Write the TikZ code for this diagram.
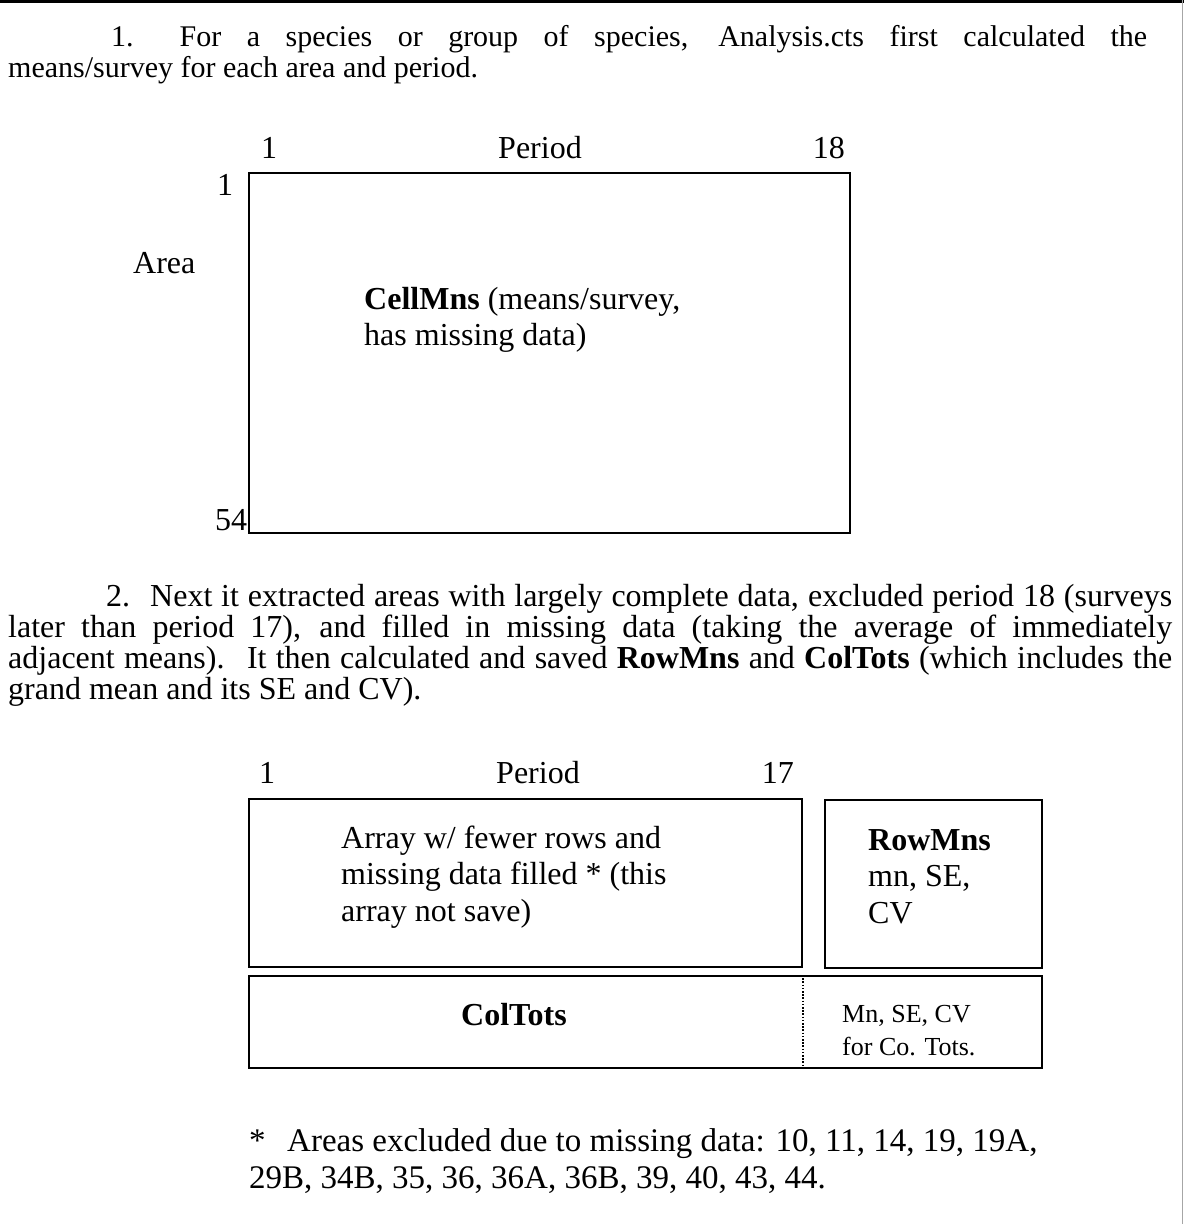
\documentclass[tikz,border=0pt]{standalone}
\usepackage{fontspec}
\setmainfont{Liberation Serif}
\newcommand\fsz[2]{\fontsize{#1}{#2}\selectfont}
\begin{document}
\begin{tikzpicture}[x=1pt,y=-1pt,
  txt/.style={inner sep=0pt, anchor=base west, font=\fsz{32}{31}},
  ptxt/.style={inner sep=0pt, anchor=base west, font=\fsz{30}{31}},
  boxn/.style={draw, line width=2pt, inner sep=0pt, anchor=north west},
  lbl/.style={inner sep=0pt, anchor=base, font=\fsz{32}{31}}]
\useasboundingbox (0,0) rectangle (1184,1224);
% page frame
\draw[line width=3.3pt] (0,1.7) -- (1184,1.7);
\draw[gray!70, line width=1.3pt] (1182.5,0) -- (1182.5,1224);

% paragraph 1
\node[ptxt] (p1a) at (111,46) {\makebox[1036pt][s]{1.\hspace{46pt}For a species or group of species, Analysis.cts first calculated the}};
\node[ptxt] (p1b) at (8,77) {means/survey for each area and period.};

% box 1
\node[boxn, minimum width=601pt, minimum height=360pt] (cell) at (248,172) {};
\node[lbl, anchor=base west] (c1) at (261,158) {1};
\node[lbl] (cper) at (540,158) {Period};
\node[lbl, anchor=base east] (c18) at (845,158) {18};
\node[lbl, anchor=base west] (r1) at (217,195) {1};
\node[lbl, anchor=base west] (area) at (133,273) {Area};
\node[lbl, anchor=base west] (r54) at (215,530) {54};
\node[txt] (cellt) at (364,309) {\parbox[t]{420pt}{\raggedright\fsz{32}{36}\textbf{CellMns} (means/survey,\\has missing data)}};

% paragraph 2
\node[txt] (p2a) at (106,606) {\makebox[1066pt][s]{2.\hspace{20pt}Next it extracted areas with largely complete data, excluded period 18 (surveys}};
\node[txt] (p2b) at (8,637) {\makebox[1164pt][s]{later than period 17), and filled in missing data (taking the average of immediately}};
\node[txt] (p2c) at (8,668) {\makebox[1164pt][s]{adjacent means).\hspace{8pt} It then calculated and saved \textbf{RowMns} and \textbf{ColTots} (which includes the}};
\node[txt] (p2d) at (8,699) {grand mean and its SE and CV).};

% box 2 group
\node[boxn, minimum width=553pt, minimum height=168pt] (arr) at (248,798) {};
\node[boxn, minimum width=217pt, minimum height=168pt] (rowm) at (824,799) {};
\node[boxn, minimum width=793pt, minimum height=92pt] (colt) at (248,975) {};
\draw[line width=1.2pt, dash pattern=on 1.6pt off 1.6pt] (colt.north -| arr.east) -- (colt.south -| arr.east);

\node[lbl, anchor=base west] (a1) at (259,783) {1};
\node[lbl] (aper) at (538,783) {Period};
\node[lbl, anchor=base east] (a17) at (794,783) {17};
\node[txt] (arrt) at (341,848) {\parbox[t]{400pt}{\raggedright\fsz{32}{36.5}Array w/ fewer rows and\\missing data filled * (this\\array not save)}};
\node[txt] (rowt) at (868,850) {\parbox[t]{165pt}{\raggedright\fsz{32}{36.5}\textbf{RowMns}\\mn, SE,\\CV}};
\node[lbl, font=\fsz{32}{31}\bfseries] (coltt) at (514,1025) {ColTots};
\node[txt] (mnt) at (842,1022) {\parbox[t]{190pt}{\raggedright\fsz{26}{33}Mn, SE, CV\\for Co. Tots.}};

% footnote
\node[txt] (foot) at (249,1151) {\parbox[t]{880pt}{\raggedright\fsz{33}{37}\makebox[38pt][l]{*}Areas excluded due to missing data: 10, 11, 14, 19, 19A,\\29B, 34B, 35, 36, 36A, 36B, 39, 40, 43, 44.}};
\end{tikzpicture}
\end{document}
